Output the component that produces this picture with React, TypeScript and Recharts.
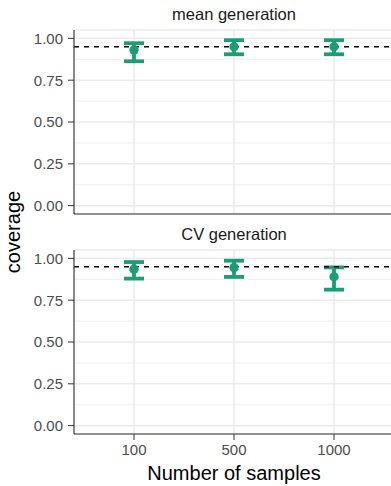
import React from "react";
import {
  ComposedChart,
  Scatter,
  ErrorBar,
  XAxis,
  YAxis,
  CartesianGrid,
  ReferenceLine,
} from "recharts";

const sampleSizes = ["100", "500", "1000"];

const meanCoverage = [0.93, 0.95, 0.95];
const meanLower = [0.863, 0.905, 0.905];
const meanUpper = [0.971, 0.989, 0.989];

const cvCoverage = [0.935, 0.945, 0.89];
const cvLower = [0.879, 0.889, 0.813];
const cvUpper = [0.978, 0.986, 0.946];

const yTicks = [0, 0.25, 0.5, 0.75, 1];
const yMinor = [0.125, 0.375, 0.625, 0.875];
const target = 0.95;

const GREEN = "#1B9E77";
const FONT = "'Liberation Sans', Arial, sans-serif";

function rows(cov: number[], lo: number[], hi: number[]) {
  return sampleSizes.map((n, i) => ({
    n,
    cov: cov[i],
    err: [cov[i] - lo[i], hi[i] - cov[i]],
  }));
}

const Dot = (p: any) => <circle cx={p.cx} cy={p.cy} r={4.7} fill={GREEN} />;
const NoTick = () => null;

function Panel({
  data,
  title,
  bottom,
  top,
  height,
}: {
  data: any[];
  title: string;
  bottom: boolean;
  top: number;
  height: number;
}) {
  return (
    <div style={{ position: "absolute", left: 0, top, width: 400, height }}>
      <div
        style={{
          position: "absolute",
          left: 74,
          width: 320,
          top: 6,
          textAlign: "center",
          fontSize: 16.5,
          lineHeight: "16px",
          color: "#1a1a1a",
        }}
      >
        {title}
      </div>
      <ComposedChart
        width={400}
        height={height}
        data={data}
        margin={{ top: 30, right: 6, bottom: 0, left: 0 }}
        style={{ fontFamily: FONT }}
      >
        <CartesianGrid
          stroke="#EBEBEB"
          strokeWidth={0.8}
          horizontalValues={yMinor}
          vertical={false}
        />
        <CartesianGrid stroke="#EBEBEB" strokeWidth={1.5} />
        <XAxis
          xAxisId="top"
          orientation="top"
          dataKey="n"
          scale="point"
          padding={{ left: 60, right: 60 }}
          height={0}
          tick={false}
          tickLine={false}
          axisLine={{ stroke: "#333333", strokeWidth: 1.1 }}
        />
        <XAxis
          dataKey="n"
          scale="point"
          padding={{ left: 60, right: 60 }}
          height={bottom ? 52 : 6}
          tick={bottom ? { fill: "#4D4D4D", fontSize: 15 } : NoTick}
          tickLine={bottom ? { stroke: "#333333" } : false}
          tickSize={6}
          tickMargin={4}
          axisLine={{ stroke: "#333333", strokeWidth: 1.1 }}
        />
        <YAxis
          type="number"
          domain={[-0.05, 1.05]}
          ticks={yTicks}
          width={74}
          tickFormatter={(v: number) => v.toFixed(2)}
          tick={{ fill: "#4D4D4D", fontSize: 15 }}
          tickLine={{ stroke: "#333333" }}
          tickSize={6}
          tickMargin={5}
          axisLine={{ stroke: "#333333", strokeWidth: 1.1 }}
          allowDataOverflow
        />
        <Scatter dataKey="cov" shape={Dot} isAnimationActive={false}>
          <ErrorBar
            dataKey="err"
            direction="y"
            width={10}
            strokeWidth={3.8}
            stroke={GREEN}
            isAnimationActive={false}
          />
        </Scatter>
        <ReferenceLine
          y={target}
          stroke="#000000"
          strokeWidth={1.7}
          strokeDasharray="5 5"
        />
      </ComposedChart>
    </div>
  );
}

export default function App() {
  return (
    <div
      style={{
        position: "fixed",
        left: 0,
        top: 0,
        width: 391,
        height: 486,
        overflow: "hidden",
        background: "#ffffff",
        fontFamily: FONT,
      }}
    >
      <Panel
        data={rows(meanCoverage, meanLower, meanUpper)}
        title="mean generation"
        bottom={false}
        top={0}
        height={220}
      />
      <Panel
        data={rows(cvCoverage, cvLower, cvUpper)}
        title="CV generation"
        bottom={true}
        top={220}
        height={266}
      />
      <div
        style={{
          position: "absolute",
          left: 13,
          top: 232,
          transform: "translate(-50%, -50%) rotate(-90deg)",
          fontSize: 20,
          lineHeight: "20px",
          whiteSpace: "nowrap",
          color: "#000",
        }}
      >
        coverage
      </div>
      <div
        style={{
          position: "absolute",
          left: 74,
          width: 320,
          top: 462,
          textAlign: "center",
          fontSize: 20,
          lineHeight: "22px",
          color: "#000",
        }}
      >
        Number of samples
      </div>
    </div>
  );
}
